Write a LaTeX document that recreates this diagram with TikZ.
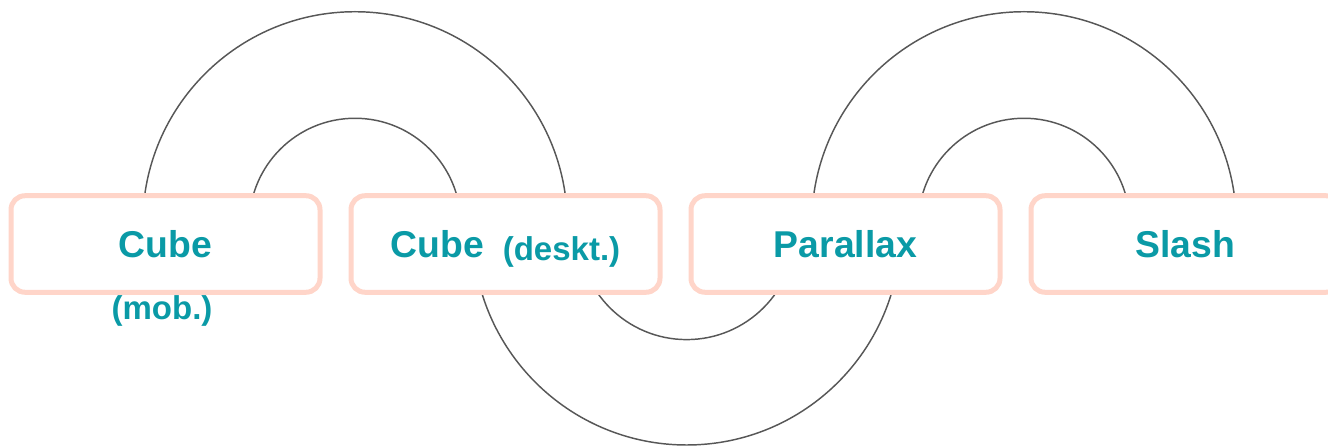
\documentclass[tikz,border=0pt]{standalone}
\usepackage{fontspec}
\setmainfont{Liberation Sans}
\definecolor{tealtext}{HTML}{0A9AA6}
\definecolor{peachline}{HTML}{FFD5C9}
\definecolor{ringline}{HTML}{575757}
\newcommand{\bigtxt}{\fontsize{28}{30}\selectfont\bfseries}
\newcommand{\smalltxt}{\fontsize{24.75}{27}\selectfont\bfseries}

\begin{document}
\begin{tikzpicture}[x=0.75pt, y=0.75pt,
        tile/.style={draw=peachline, line width=3.75pt, fill=white,
            rounded corners=10.5pt, minimum width=231.75pt, minimum height=72.4pt,
            inner sep=0pt, text=tealtext, font=\bigtxt,
            text height=20.6pt, text depth=0pt},
        ring/.style={draw=ringline, line width=1.1pt}]
            \useasboundingbox (0, 0) rectangle (1328, 446);

            %%ring centres
            \coordinate (hubleft) at (355, 222);
            \coordinate (hubmid) at (686.7, 215);
            \coordinate (hubright) at (1024, 222);

            %%upper rings
            \draw[ring] ([shift={(0:159.2pt)}]hubleft) arc[start angle=0, end angle=180, radius=159.2pt];
            \draw[ring] ([shift={(0:79.3pt)}]hubleft) arc[start angle=0, end angle=180, radius=79.3pt];
            \draw[ring] ([shift={(0:159.2pt)}]hubright) arc[start angle=0, end angle=180, radius=159.2pt];
            \draw[ring] ([shift={(0:79.3pt)}]hubright) arc[start angle=0, end angle=180, radius=79.3pt];

            %%lower rings
            \draw[ring] ([shift={(180:160.5pt)}]hubmid) arc[start angle=180, end angle=360, radius=160.5pt];
            \draw[ring] ([shift={(180:81.45pt)}]hubmid) arc[start angle=180, end angle=360, radius=81.45pt];

            %%tiles
            \node[tile] (cubemob) at (165.5, 202) {Cube};
                \node[font=\smalltxt, text=tealtext, anchor=base] (mob) at (162, 126) {(mob.)};
            \node[tile] (cubedesk) at (505.5, 202) {Cube\hspace{14pt}\raisebox{-2pt}{\smalltxt (deskt.)}};
            \node[tile] (parallax) at (845.5, 202) {Parallax};
            \node[tile] (slash) at (1185.5, 202) {Slash};

        \end{tikzpicture}
\end{document}
